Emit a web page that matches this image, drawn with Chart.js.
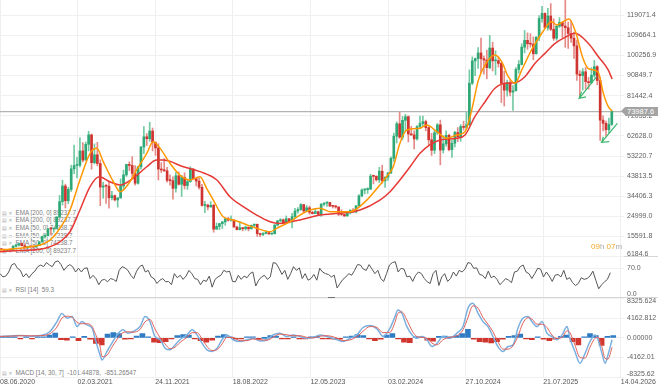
<!DOCTYPE html>
<html>
<head>
<meta charset="utf-8">
<script src="https://cdn.jsdelivr.net/npm/chart.js@4.4.1/dist/chart.umd.min.js"></script>
<style>
  body { margin: 0; background: #fff; width: 658px; height: 392px; overflow: hidden; position: relative; font-family: "Liberation Sans", Arial, sans-serif; }
  .panel { position: absolute; left: 0; width: 658px; }
  .sep { position: absolute; left: 0; width: 658px; height: 1px; background: #d6d6d6; }
  .grip { position: absolute; left: 328px; width: 7px; height: 1px; background: #777; }
  .legend { position: absolute; left: 2px; font-size: 6.3px; line-height: 7px; color: #7d7d7d; white-space: nowrap; }
  .legend .ic { color: #a8a8a8; font-family: "DejaVu Sans", sans-serif; font-size: 5px; margin-right: 3px; }
  #tag { position: absolute; left: 625px; width: 33px; height: 9px; background: #a3a3a3; color: #fff; font-size: 7.5px; line-height: 9px; padding-left: 2px; box-sizing: border-box; z-index: 5; }
  #tag:before { content: ""; position: absolute; left: -4px; top: 0; border-top: 4.5px solid transparent; border-bottom: 4.5px solid transparent; border-right: 4px solid #a3a3a3; }
  #timer { position: absolute; left: 591px; top: 242px; font-size: 8px; line-height: 9px; color: #aaa; z-index: 5; }
  #timer b { font-weight: normal; color: #f5a623; }
</style>
</head>
<body>
<div class="legend" style="top:209px"><span class="ic">▤ ✕</span>EMA [200, 0] 89237.7</div>
<div class="legend" style="top:216px"><span class="ic">▤ ✕</span>EMA [200, 0] 89237.7</div>
<div class="legend" style="top:224px"><span class="ic">▤ ✕</span>EMA [50, 0] 74238.7</div>
<div class="legend" style="top:232px"><span class="ic">▤ ✕</span>EMA [50, 0] 74238.7</div>
<div class="legend" style="top:239px"><span class="ic">▤ ✕</span>EMA [50, 0] 74238.7</div>
<div class="legend" style="top:247px"><span class="ic">▤ ✕</span>EMA [200, 0] 89237.7</div>
<div class="legend" style="top:286px"><span class="ic">▤ ✕</span>RSI [14]&nbsp; 59.3</div>
<div class="legend" style="top:369px"><span class="ic">▤ ✕</span>MACD [14, 30, 7]&nbsp; -101.44878,&nbsp; -851.26547</div>

<div class="sep" style="top:256px"></div>
<div class="sep" style="top:297px"></div>
<div class="grip" style="top:256px"></div>
<div class="grip" style="top:297px"></div>

<div class="panel" style="top:0;height:257px"><canvas id="main" width="658" height="257"></canvas></div>
<div class="panel" style="top:256px;height:41px"><canvas id="rsi" width="658" height="41"></canvas></div>
<div class="panel" style="top:297px;height:95px"><canvas id="macd" width="658" height="95"></canvas></div>
<div id="tag">73987.6</div>
<div id="timer"><b>09</b>h <b>07</b>m</div>

<script>
// x axis is in days counted from 08.06.2020
const dateTicks = [0, 267, 534, 801, 1068, 1335, 1602, 1869, 2136];
const dateLabels = ['08.06.2020', '02.03.2021', '24.11.2021', '18.08.2022', '12.05.2023', '03.02.2024', '27.10.2024', '21.07.2025', '14.04.2026'];

const priceTicks = [6184.6, 15591.8, 24999.0, 34406.3, 43813.5, 53220.7, 62628.0, 72035.2, 81442.4, 90849.7, 100256.9, 109664.1, 119071.4];
const priceLabels = ['6184.6', '15591.8', '24999.0', '34406.3', '43813.5', '53220.7', '62628.0', '72035.2', '81442.4', '90849.7', '100256.9', '109664.1', '119071.4'];
const rsiTicks = [0, 70];
const rsiLabels = ['0.0', '70.0'];
const macdTicks = [-8325.624, -4162.812, 0, 4162.812, 8325.624];
const macdLabels = ['-8325.62', '-4162.01', '0.00000', '4162.812', '8325.624'];

const lastPrice = 73987.6;

// 10-day candles, prices in thousands, open = previous close
const candleDays = 10;
const firstOpenK = 9.7;
const closeK = [9.4, 9.1, 9.4, 9.15, 11.0, 11.6, 12.3, 11.3, 10.25, 10.95,
  10.73, 10.6, 11.33, 13.05, 15.6, 15.96, 19.15, 19.1, 19.4, 24.7,
  31.9, 39.2, 32.3, 37.6, 47.2, 48.8, 48.9, 55.6, 51.3, 58.7,
  63.1, 50.1, 53.8, 49.7, 38.7, 39.2, 39.1, 33.7, 34.7, 32.7,
  33.6, 39.2, 44.4, 49.3, 48.8, 45.1, 40.5, 48.2, 57.4, 62.2,
  61.3, 64.9, 59.7, 57.0, 47.1, 46.7, 46.3, 41.8, 41.7, 38.1,
  44.0, 40.0, 43.2, 39.4, 41.3, 47.1, 42.7, 41.5, 38.6, 30.1,
  30.3, 29.4, 30.2, 19.0, 20.3, 21.6, 22.4, 23.8, 23.2, 23.3,
  20.0, 18.8, 19.7, 19.2, 20.0, 19.2, 20.8, 21.3, 16.9, 16.5,
  17.0, 17.4, 16.8, 16.85, 20.9, 22.9, 23.4, 21.8, 23.9, 22.4,
  24.9, 27.5, 28.2, 30.5, 27.5, 29.0, 26.9, 26.3, 27.2, 25.9,
  30.7, 31.2, 31.5, 29.8, 29.7, 29.4, 26.0, 25.9, 25.2, 26.6,
  27.9, 27.1, 29.9, 34.6, 37.3, 37.5, 37.7, 43.8, 43.7, 42.1,
  46.1, 41.6, 43.3, 45.3, 52.1, 62.5, 68.3, 62.0, 69.9, 71.6,
  63.5, 63.1, 61.2, 67.0, 68.4, 69.3, 66.5, 60.8, 55.9, 64.1,
  67.8, 56.0, 58.9, 62.9, 56.2, 59.2, 64.2, 62.1, 67.0, 66.6,
  67.8, 87.3, 97.7, 98.8, 101.4, 98.7, 98.1, 94.5, 103.7, 97.7,
  97.8, 96.5, 87.2, 84.0, 87.5, 83.1, 83.7, 93.7, 96.0, 104.1,
  107.3, 105.7, 105.5, 101.0, 108.8, 117.5, 119.9, 113.3, 118.7, 112.5,
  108.3, 113.9, 115.7, 114.0, 113.2, 110.5, 108.3, 104.7, 91.5, 90.8,
  92.6, 88.0, 87.5, 91.0, 95.0, 88.5, 70.0, 68.5, 65.5, 68.0,
  73.99];
const highK = [10.0, 9.8, 9.5, 9.4, 11.4, 11.9, 12.4, 12.5, 12.1, 11.1,
  11.1, 10.9, 11.7, 13.3, 15.8, 16.5, 19.4, 19.9, 19.5, 24.8,
  34.8, 41.9, 40.1, 38.6, 48.9, 58.3, 52.6, 61.7, 59.5, 59.8,
  64.8, 63.5, 58.9, 59.6, 51.4, 41.0, 39.9, 41.3, 36.7, 35.0,
  33.8, 42.5, 46.6, 49.4, 50.5, 52.9, 48.8, 48.4, 57.8, 67.0,
  63.7, 69.0, 66.3, 59.3, 59.0, 50.1, 52.0, 47.9, 44.4, 43.5,
  45.5, 45.8, 44.2, 45.4, 42.4, 48.2, 47.5, 42.9, 42.9, 40.0,
  32.0, 30.7, 31.9, 30.7, 21.9, 21.8, 22.7, 24.2, 24.6, 25.2,
  23.4, 20.5, 22.7, 19.9, 20.5, 20.0, 21.0, 21.5, 21.4, 17.2,
  17.4, 18.4, 17.5, 17.0, 21.2, 23.1, 24.0, 23.8, 25.2, 24.0,
  26.4, 28.8, 29.1, 31.0, 30.6, 30.0, 29.8, 27.4, 28.4, 27.4,
  31.0, 31.4, 31.8, 31.6, 30.0, 30.2, 29.5, 28.1, 26.1, 27.4,
  28.0, 28.6, 30.0, 35.2, 37.9, 38.0, 38.4, 44.7, 44.3, 44.0,
  47.9, 48.9, 43.5, 45.6, 52.8, 63.9, 69.2, 73.8, 71.7, 72.7,
  72.0, 67.1, 65.0, 67.4, 71.9, 71.9, 70.0, 66.9, 63.8, 65.3,
  68.4, 70.0, 62.7, 65.0, 63.5, 60.7, 64.8, 66.5, 67.9, 69.5,
  73.6, 93.5, 99.6, 99.0, 103.9, 108.3, 99.9, 102.7, 109.6, 106.4,
  102.4, 99.5, 97.0, 92.8, 88.7, 88.5, 86.1, 94.6, 97.9, 105.7,
  111.9, 110.8, 110.4, 108.9, 109.0, 118.9, 123.2, 120.2, 122.3, 124.5,
  117.4, 114.3, 117.9, 116.0, 126.2, 115.9, 116.4, 111.2, 107.5, 93.1,
  94.1, 94.6, 90.0, 94.5, 97.9, 95.5, 90.0, 72.0, 69.5, 71.0,
  74.5];
const lowK = [9.2, 8.9, 8.9, 9.0, 9.1, 10.6, 11.1, 11.1, 9.9, 10.0,
  10.2, 10.4, 10.6, 11.3, 12.9, 14.8, 15.9, 16.3, 17.6, 19.3,
  24.2, 30.3, 28.9, 31.0, 36.6, 45.0, 43.0, 48.1, 50.4, 51.3,
  55.6, 47.0, 49.5, 48.6, 30.0, 33.5, 31.0, 28.8, 32.7, 32.2,
  29.3, 33.5, 37.6, 43.7, 46.4, 43.0, 39.6, 40.0, 47.1, 54.3,
  58.1, 60.1, 55.6, 53.5, 42.0, 45.5, 46.0, 41.0, 39.6, 33.0,
  36.3, 39.6, 34.3, 37.8, 37.6, 40.9, 42.2, 39.2, 37.7, 29.8,
  26.7, 28.0, 29.3, 17.6, 19.0, 18.8, 19.3, 20.8, 22.7, 22.7,
  19.9, 18.7, 18.6, 18.2, 18.5, 18.2, 19.0, 20.1, 15.6, 15.5,
  16.0, 16.8, 16.5, 16.4, 16.8, 20.6, 22.3, 21.4, 21.5, 21.9,
  19.6, 24.2, 26.5, 27.8, 27.0, 27.1, 26.0, 26.1, 26.5, 25.4,
  25.0, 29.9, 29.7, 29.6, 28.9, 28.8, 25.3, 25.4, 24.9, 25.1,
  26.1, 26.8, 26.6, 29.9, 34.1, 35.5, 35.7, 37.6, 40.2, 41.5,
  40.8, 40.5, 38.5, 41.8, 45.0, 50.6, 59.3, 61.4, 60.8, 64.5,
  59.8, 62.8, 56.5, 60.6, 66.1, 67.2, 65.0, 58.4, 53.5, 54.3,
  63.3, 49.1, 54.6, 57.8, 55.6, 52.6, 57.5, 59.9, 60.1, 65.3,
  66.0, 67.5, 86.6, 90.8, 94.2, 92.2, 91.5, 89.3, 93.9, 93.0,
  91.2, 94.8, 78.2, 76.6, 81.2, 81.3, 74.5, 83.6, 91.9, 95.8,
  101.4, 103.1, 104.1, 98.2, 100.9, 107.2, 115.8, 112.7, 112.1, 111.9,
  107.3, 107.3, 113.3, 108.6, 104.0, 103.5, 106.3, 98.9, 88.6, 80.6,
  84.0, 84.5, 84.5, 87.0, 90.0, 86.5, 60.5, 65.0, 62.5, 64.0,
  67.5];

// moving averages (day, thousands)
const ema50Days = [0, 69, 103, 138, 172, 206, 241, 275, 310, 333,
  355, 390, 413, 447, 470, 505, 527, 551, 585, 619,
  654, 688, 711, 734, 768, 803, 837, 883, 929, 952,
  998, 1032, 1067, 1101, 1135, 1204, 1262, 1307, 1330, 1353,
  1376, 1399, 1445, 1468, 1503, 1537, 1571, 1600, 1623, 1646,
  1669, 1703, 1726, 1749, 1772, 1795, 1829, 1864, 1898, 1915,
  1958, 1982, 2004, 2023, 2044, 2059, 2076, 2093, 2106];
const ema50K = [9.3, 10.1, 10.8, 11.6, 13.9, 19.4, 28.0, 42.0, 54.5, 56.8,
  50.6, 41.2, 36.5, 41.2, 46.7, 54.5, 59.9, 56.8, 49.8, 44.3,
  42.0, 43.5, 38.1, 32.6, 24.8, 23.3, 21.7, 19.4, 17.8, 19.4,
  22.5, 25.6, 28.0, 28.8, 27.2, 27.2, 32.6, 39.7, 43.5, 48.2,
  59.2, 65.4, 66.2, 67.7, 64.6, 61.5, 63.0, 64.6, 74.7, 88.7,
  95.8, 100.4, 97.3, 90.3, 87.2, 93.4, 102.8, 110.6, 116.0, 114.5,
  117.3, 110.6, 99.6, 94.2, 93.4, 92.2, 82.5, 76.3, 74.24];
const ema200Days = [0, 69, 138, 172, 206, 241, 275, 310, 341, 378,
  413, 458, 505, 539, 562, 631, 688, 746, 791, 837,
  883, 929, 963, 998, 1032, 1101, 1170, 1239, 1307, 1342,
  1376, 1411, 1445, 1479, 1514, 1571, 1600, 1634, 1669, 1703,
  1738, 1772, 1806, 1841, 1875, 1910, 1944, 1978, 2024, 2059,
  2093, 2106];
const ema200K = [8.5, 9.0, 9.6, 10.8, 13.1, 17.8, 28.0, 38.9, 43.5, 41.2,
  39.7, 42.8, 48.2, 51.3, 51.3, 48.2, 45.9, 42.0, 34.2, 29.5,
  25.6, 22.5, 21.7, 22.5, 23.3, 25.6, 26.4, 28.0, 32.6, 36.5,
  42.0, 48.2, 54.5, 58.4, 60.7, 61.5, 63.0, 71.6, 78.6, 84.9,
  87.2, 87.5, 90.3, 96.6, 101.2, 105.9, 108.7, 110.6, 105.9, 99.6,
  93.4, 89.24];

// drawn green arrows (tail, tip, wing, tip, wing)
const arrowADays = [2053, 1993, 2016, 1993, 2001];
const arrowAPrices = [90300, 80200, 80900, 80200, 83300];
const arrowBDays = [2124, 2070, 2096, 2070, 2076];
const arrowBPrices = [68500, 59600, 59900, 59600, 62200];

// RSI every 10 days
const rsiStep = 10;
const rsiValues = [57, 49, 51, 61, 78, 82, 70, 65, 49, 57,
  47, 57, 63, 74, 78, 74, 84, 78, 74, 86,
  88, 79, 65, 74, 79, 74, 61, 70, 61, 70,
  71, 45, 53, 45, 30, 41, 43, 37, 45, 43,
  38, 65, 74, 71, 65, 53, 45, 63, 74, 78,
  61, 65, 49, 45, 33, 41, 45, 37, 38, 30,
  57, 47, 53, 43, 51, 65, 57, 45, 43, 30,
  41, 38, 51, 24, 43, 49, 53, 65, 61, 63,
  38, 37, 53, 43, 51, 47, 57, 61, 27, 41,
  49, 53, 43, 49, 84, 82, 70, 55, 65, 43,
  57, 74, 65, 71, 45, 57, 41, 45, 55, 41,
  70, 61, 57, 55, 49, 53, 22, 33, 43, 49,
  57, 53, 65, 79, 78, 68, 65, 79, 68, 57,
  65, 45, 38, 57, 78, 84, 86, 61, 70, 68,
  49, 51, 38, 53, 61, 57, 45, 37, 33, 57,
  65, 28, 49, 57, 38, 45, 61, 51, 65, 61,
  68, 84, 82, 70, 71, 55, 53, 45, 63, 47,
  51, 43, 30, 37, 45, 41, 35, 61, 63, 74,
  78, 61, 57, 45, 57, 70, 68, 49, 61, 51,
  38, 53, 55, 49, 65, 43, 47, 35, 28, 33,
  47, 43, 45, 51, 63, 41, 20, 30, 37, 43,
  59.3];

// MACD line and signal (day, value), histogram every 20 days
const macdDays = [0, 34, 69, 103, 148, 172, 196, 213, 231, 248,
  265, 282, 299, 317, 327, 344, 351, 368, 385, 403,
  423, 440, 458, 482, 499, 516, 533, 551, 568, 585,
  602, 619, 643, 661, 678, 695, 712, 729, 747, 764,
  781, 802, 826, 850, 870, 895, 919, 939, 963, 987,
  1008, 1032, 1056, 1077, 1101, 1125, 1160, 1180, 1204, 1228,
  1249, 1273, 1297, 1318, 1342, 1359, 1369, 1383, 1400, 1418,
  1435, 1452, 1469, 1486, 1504, 1524, 1548, 1572, 1593, 1610,
  1627, 1645, 1662, 1679, 1696, 1713, 1731, 1748, 1765, 1782,
  1799, 1817, 1830, 1848, 1865, 1882, 1899, 1916, 1934, 1951,
  1961, 1978, 1996, 2013, 2030, 2047, 2058, 2071, 2082, 2092,
  2106];
const macdLine = [300, 400, 500, 350, 600, 1350, 3460, 5200, 4170, 4520,
  2400, 3460, 2750, 2050, -100, -3600, -4700, -2900, -1140, 630,
  1700, 1000, 1350, 2400, 4520, 3460, 300, -400, -2200, -2550,
  -1500, -400, 630, 1700, 630, -1140, -2550, -2900, -2200, -400,
  630, -400, -780, -400, -100, -650, -400, 630, 1000, 280,
  630, 280, -100, 50, 630, 280, -400, -780, -100, 630,
  2200, 2600, 1900, 280, 2050, 4520, 5930, 5200, 2400, 630,
  -100, 280, -400, -1850, -1140, 280, -100, 1000, 2400, 6290,
  7350, 5200, 3460, 2400, 280, -1850, -2900, -1850, -1500, 2050,
  4170, 4520, 3460, 2400, 3460, 1000, 280, -400, 630, 2400,
  -100, -2900, -5400, -3300, -780, 630, -400, -3300, -5400, -3600,
  -400];
const macdSignal = [300, 350, 450, 430, 480, 900, 2300, 4200, 4600, 4400,
  3300, 3000, 3000, 2400, 1000, -1700, -4000, -3700, -2000, -300,
  1100, 1300, 1200, 1800, 3400, 3900, 1900, 0, -1300, -2300,
  -2000, -1000, 100, 1100, 1100, -200, -1800, -2700, -2500, -1300,
  100, 100, -600, -600, -250, -400, -500, 100, 800, 650,
  450, 450, 100, -20, 350, 450, -50, -600, -450, 250,
  1400, 2400, 2200, 1100, 1200, 3300, 5200, 5500, 3800, 1500,
  250, 100, -100, -1100, -1500, -400, 100, 450, 1700, 4300,
  6800, 6300, 4300, 2900, 1300, -800, -2400, -2400, -1700, 300,
  3100, 4300, 4000, 2900, 2900, 2200, 600, -100, 100, 1500,
  1100, -1500, -4200, -4300, -2000, -100, 100, -1900, -4400, -4500,
  -2000];
const histStep = 20;
const macdHist = [100, 80, 60, -80, 50, -60, 80, 150, 600, 1000,
  -400, -500, 200, -600, 300, -300, -1200, -1500, 800, 1100,
  900, -300, -200, 400, 900, 200, -900, -1000, -800, -200,
  500, 700, 600, -200, -600, -900, -500, 400, 700, 200,
  -300, -200, 100, 200, -300, 0, 500, 400, -100, -200,
  150, -100, -200, 100, 300, -100, -200, -300, -300, 200,
  400, 700, 500, -200, -600, -300, 600, 900, -200, -900,
  -1000, 100, 200, -500, -700, 300, 400, 100, 500, 900,
  1800, -300, -800, -900, -1100, -800, -300, 300, 500, 800,
  -200, -400, 100, -300, -600, -300, 300, 600, -800, -1500,
  200, 900, 500, -1600, 300, 500];

const xMax = 2147;
const upColor = '#2ea876';
const downColor = '#cf3530';

Chart.defaults.font.family = '"Liberation Sans", Arial, sans-serif';
Chart.defaults.animation = false;
Chart.defaults.events = [];
Chart.defaults.plugins.legend.display = false;
Chart.defaults.plugins.tooltip.enabled = false;

function xAxis(showLabels) {
  return {
    type: 'linear', min: 0, max: xMax, offset: false,
    grid: { color: '#efefef', drawTicks: false, offset: false },
    border: { display: false },
    ticks: {
      display: showLabels, align: 'start', autoSkip: false, maxRotation: 0, padding: 1,
      color: '#555', font: { size: 7 },
      callback: (v, i) => dateLabels[i]
    },
    afterBuildTicks: scale => { scale.ticks = dateTicks.map(v => ({ value: v })); },
    afterFit: scale => {
      scale.paddingLeft = 0;
      scale.paddingRight = 0;
      if (showLabels) scale.height = 15;
    }
  };
}

function yAxis(min, max, ticks, labels, lowEdge, highEdge) {
  return {
    position: 'right', min: min, max: max,
    grid: { color: '#f0f0f0', drawTicks: false },
    border: { display: false },
    ticks: {
      padding: 3, autoSkip: false, color: '#5f5f5f', font: { size: 7, lineHeight: 0.8 },
      callback: (v, i, all) => {
        if (i === 0 && lowEdge) return [labels[i], ''];
        if (i === all.length - 1 && highEdge) return ['', labels[i]];
        return labels[i];
      }
    },
    afterBuildTicks: scale => { scale.ticks = ticks.map(v => ({ value: v })); },
    afterFit: scale => {
      scale.width = 34;
      scale.paddingTop = 0;
      scale.paddingBottom = 0;
    }
  };
}

const opensK = closeK.map((c, i) => i === 0 ? firstOpenK : closeK[i - 1]);
const candleX = i => i * candleDays + candleDays / 2;
const candleColors = closeK.map((c, i) => c >= opensK[i] ? upColor : downColor);
const wickColors = closeK.map((c, i) => c >= opensK[i] ? '#72c9a2' : '#e58a86');

const mainChart = new Chart(document.getElementById('main').getContext('2d'), {
  type: 'line',
  data: {
    datasets: [
      {
        label: 'arrowA',
        data: arrowADays.map((d, i) => ({ x: d, y: arrowAPrices[i] })),
        borderColor: '#3cb86e', borderWidth: 1.2, pointRadius: 0
      },
      {
        label: 'arrowB',
        data: arrowBDays.map((d, i) => ({ x: d, y: arrowBPrices[i] })),
        borderColor: '#3cb86e', borderWidth: 1.2, pointRadius: 0
      },
      {
        label: 'EMA 50',
        data: ema50Days.map((d, i) => ({ x: d, y: ema50K[i] * 1000 })),
        borderColor: '#ff9800', borderWidth: 1.5, pointRadius: 0,
        cubicInterpolationMode: 'monotone'
      },
      {
        label: 'EMA 200',
        data: ema200Days.map((d, i) => ({ x: d, y: ema200K[i] * 1000 })),
        borderColor: '#e53935', borderWidth: 1.5, pointRadius: 0,
        cubicInterpolationMode: 'monotone'
      },
      {
        type: 'bar',
        label: 'body',
        data: closeK.map((c, i) => ({ x: candleX(i), y: [opensK[i] * 1000, c * 1000] })),
        backgroundColor: candleColors,
        barThickness: 2, grouped: false, minBarLength: 1
      },
      {
        type: 'bar',
        label: 'wick',
        data: closeK.map((c, i) => ({ x: candleX(i), y: [lowK[i] * 1000, highK[i] * 1000] })),
        backgroundColor: wickColors,
        barThickness: 1, grouped: false
      },
      {
        label: 'last',
        data: [{ x: 0, y: lastPrice }, { x: xMax, y: lastPrice }],
        borderColor: '#b3b3b3', borderWidth: 1.3, pointRadius: 0
      }
    ]
  },
  options: {
    responsive: false,
    maintainAspectRatio: false,
    scales: {
      x: xAxis(false),
      y: yAxis(6000, 126160, priceTicks, priceLabels, true, false)
    }
  }
});

const tagY = mainChart.scales.y.getPixelForValue(lastPrice);
document.getElementById('tag').style.top = (tagY - 4.5) + 'px';

new Chart(document.getElementById('rsi').getContext('2d'), {
  type: 'line',
  data: {
    datasets: [{
      label: 'RSI',
      data: rsiValues.map((v, i) => ({ x: i * rsiStep, y: v })),
      borderColor: '#555', borderWidth: 1, pointRadius: 0
    }]
  },
  options: {
    responsive: false,
    maintainAspectRatio: false,
    scales: {
      x: xAxis(false),
      y: yAxis(0, 100, rsiTicks, rsiLabels, true, false)
    }
  }
});

new Chart(document.getElementById('macd').getContext('2d'), {
  type: 'line',
  data: {
    datasets: [
      {
        label: 'signal',
        data: macdDays.map((d, i) => ({ x: d, y: macdSignal[i] })),
        borderColor: '#e0605a', borderWidth: 1, pointRadius: 0,
        cubicInterpolationMode: 'monotone'
      },
      {
        label: 'macd',
        data: macdDays.map((d, i) => ({ x: d, y: macdLine[i] })),
        borderColor: '#7ab0e0', borderWidth: 1.5, pointRadius: 0,
        cubicInterpolationMode: 'monotone'
      },
      {
        type: 'bar',
        label: 'hist',
        data: macdHist.map((v, i) => ({ x: i * histStep + histStep / 2, y: v })),
        backgroundColor: macdHist.map(v => v >= 0 ? '#2f7cc4' : '#d0362e'),
        barThickness: 5, grouped: false, minBarLength: 1
      }
    ]
  },
  options: {
    responsive: false,
    maintainAspectRatio: false,
    layout: { padding: { top: 1.7 } },
    scales: {
      x: xAxis(true),
      y: yAxis(-8325.624, 8325.624, macdTicks, macdLabels, true, true)
    }
  }
});
</script>
</body>
</html>
